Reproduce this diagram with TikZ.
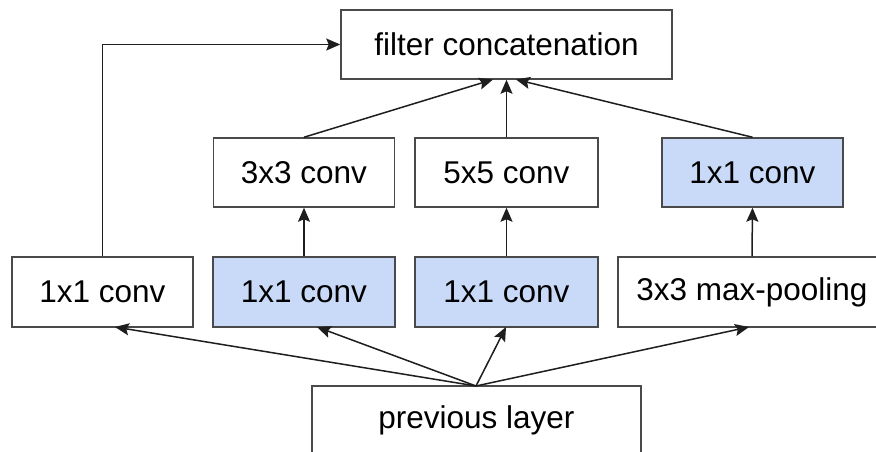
\documentclass[tikz,border=0pt]{standalone}
\usepackage{fontspec}
\setmainfont{Liberation Sans}
\usetikzlibrary{arrows.meta}
\definecolor{boxblue}{HTML}{C9DAF8}
\definecolor{edgegray}{HTML}{4A4A4A}
\definecolor{linecol}{HTML}{1E1E1E}
\tikzset{
  blk/.style={draw=edgegray, line width=1.5pt, fill=white, minimum height=69pt, inner sep=0pt,
    font=\fontsize{31.5}{36}\selectfont, text=black},
  bluebox/.style={blk, fill=boxblue},
  conn/.style={draw=linecol, line width=1.5pt, -{Stealth[length=14pt,width=12pt,inset=2.5pt]}}
}
\begin{document}
\begin{tikzpicture}[x=1pt,y=-1pt]
\useasboundingbox (0,0) rectangle (876,452);
\clip (0,0) rectangle (876,452);
\fill[white] (0,0) rectangle (876,452);
% nodes
\node[blk, minimum width=331pt] (concat) at (506.5,44.5) {filter concatenation};
\node[blk, minimum width=181pt] (c3) at (304,172.5) {3x3 conv};
\node[blk, minimum width=183pt] (c5) at (506.5,172.5) {5x5 conv};
\node[bluebox, minimum width=181pt] (c1r) at (752.5,172.5) {1x1 conv};
\node[blk, minimum width=181pt, minimum height=70pt] (c1l) at (102.5,292) {1x1 conv};
\node[bluebox, minimum width=182pt, minimum height=70pt] (b3) at (304,292) {1x1 conv};
\node[bluebox, minimum width=183pt, minimum height=70pt] (b5) at (506.5,292) {1x1 conv};
\node[blk, minimum width=268pt, minimum height=70pt] (pool) at (752,292) {3x3 max-pooling};
\node[blk, minimum width=329pt] (prev) at (476.5,420.5) {previous layer};
% connector end points
\coordinate (in3) at (493,79.5);
\coordinate (in1) at (516,79.5);
\coordinate (src) at (476,386);
\coordinate (tl) at (115,327);
\coordinate (tb3) at (317,327);
\coordinate (tb5) at (506,327);
\coordinate (tp) at (749,327);
% top arrows
\draw[conn] (c3.north) -- (in3);
\draw[conn] (c5.north) -- (concat.south);
\draw[conn] (c1r.north) -- (in1);
\draw[conn] (c1l.north) |- (concat.west);
% middle arrows
\draw[conn] (b3.north) -- (c3.south);
\draw[conn] (b5.north) -- (c5.south);
\draw[conn] (pool.north) -- (c1r.south);
% bottom arrows
\draw[conn] (src) -- (tl);
\draw[conn] (src) -- (tb3);
\draw[conn] (src) -- (tb5);
\draw[conn] (src) -- (tp);
\end{tikzpicture}
\end{document}
